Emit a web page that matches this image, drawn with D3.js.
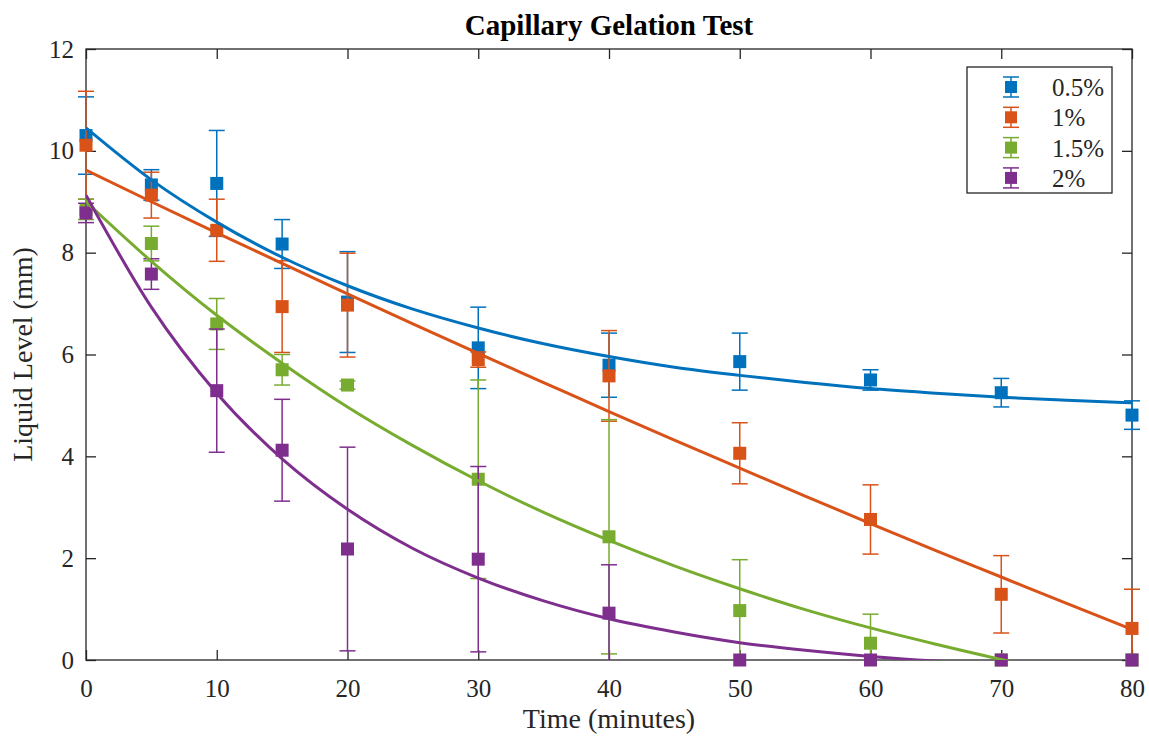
<!DOCTYPE html>
<html>
<head>
<meta charset="utf-8">
<script src="https://cdn.jsdelivr.net/npm/d3@7"></script>
<style>
  body { margin: 0; background: #fff; }
  svg text { font-family: "Liberation Serif", "Times New Roman", serif; fill: #262626; }
</style>
</head>
<body>
<svg id="chart"></svg>
<script>
const times = [0, 5, 10, 15, 20, 30, 40, 50, 60, 70, 80];
const seriesNames = ["0.5%", "1%", "1.5%", "2%"];
const colors = ["#0072BD", "#D95319", "#77AC30", "#7E2F8E"];

const mean05 = [10.30, 9.33, 9.36, 8.17, 7.03, 6.13, 5.79, 5.86, 5.50, 5.25, 4.81];
const err05 = [0.76, 0.30, 1.04, 0.48, 0.99, 0.80, 0.63, 0.56, 0.20, 0.28, 0.28];
const mean1 = [10.11, 9.13, 8.44, 6.94, 6.97, 5.90, 5.58, 4.06, 2.76, 1.29, 0.62];
const err1 = [1.06, 0.45, 0.61, 0.90, 1.02, 0.15, 0.89, 0.60, 0.68, 0.76, 0.77];
const mean15 = [8.85, 8.18, 6.60, 5.70, 5.40, 3.55, 2.42, 0.97, 0.33, 0, 0];
const err15 = [0.20, 0.34, 0.50, 0.30, 0.08, 1.95, 2.30, 1.00, 0.57, 0, 0];
const mean2 = [8.78, 7.58, 5.29, 4.12, 2.18, 1.98, 0.92, 0, 0, 0, 0];
const err2 = [0.19, 0.30, 1.21, 1.00, 2.00, 1.82, 0.95, 0, 0, 0, 0];

// fitted curves, every 5 minutes
const fitTimes = [0, 5, 10, 15, 20, 25, 30, 35, 40, 45, 50, 55, 60, 65, 70, 75, 80];
const fit05 = [10.45, 9.43, 8.60, 7.91, 7.35, 6.89, 6.52, 6.21, 5.96, 5.75, 5.59, 5.45, 5.33, 5.24, 5.16, 5.10, 5.05];
const fit1 = [9.62, 9.00, 8.39, 7.79, 7.19, 6.60, 6.02, 5.45, 4.88, 4.32, 3.77, 3.22, 2.68, 2.15, 1.63, 1.11, 0.60];
const fit15 = [9.00, 7.83, 6.77, 5.83, 4.97, 4.21, 3.52, 2.90, 2.35, 1.85, 1.40, 0.99, 0.63, 0.31, 0.01, -0.25, -0.49];
const fit2 = [9.13, 6.93, 5.24, 3.95, 2.96, 2.19, 1.61, 1.16, 0.81, 0.55, 0.34, 0.19, 0.07, -0.02, -0.09, -0.15, -0.19];

const xTicks = [0, 10, 20, 30, 40, 50, 60, 70, 80];
const yTicks = [0, 2, 4, 6, 8, 10, 12];

const means = [mean05, mean1, mean15, mean2];
const errs = [err05, err1, err15, err2];
const fits = [fit05, fit1, fit15, fit2];

const W = 1149, H = 736;
const margin = { top: 49, right: 17, bottom: 76, left: 86 };
const width = W - margin.left - margin.right;
const height = H - margin.top - margin.bottom;
const axisColor = "#262626";
const serif = '"Liberation Serif", "Times New Roman", serif';

const svg = d3.select("#chart").attr("width", W).attr("height", H);

const x = d3.scaleLinear().domain([0, 80]).range([0, width]);
const y = d3.scaleLinear().domain([0, 12]).range([height, 0]);

const g = svg.append("g")
  .attr("transform", "translate(" + margin.left + "," + margin.top + ")");

const defs = svg.append("defs");
defs.append("clipPath").attr("id", "clipY")
  .append("rect")
  .attr("x", -margin.left).attr("y", 0)
  .attr("width", W).attr("height", height);
defs.append("clipPath").attr("id", "clipBox")
  .append("rect")
  .attr("x", 0).attr("y", 0)
  .attr("width", width).attr("height", height);

// axes with inward ticks
const xAxis = g.append("g")
  .attr("transform", "translate(0," + height + ")")
  .call(d3.axisBottom(x).tickValues(xTicks).tickSizeInner(-10).tickSizeOuter(0).tickPadding(19));
const xTop = g.append("g")
  .call(d3.axisTop(x).tickValues(xTicks).tickSizeInner(-10).tickSizeOuter(0).tickFormat(""));
const yAxis = g.append("g")
  .call(d3.axisLeft(y).tickValues(yTicks).tickSizeInner(-10).tickSizeOuter(0).tickPadding(12));
const yRight = g.append("g")
  .attr("transform", "translate(" + width + ",0)")
  .call(d3.axisRight(y).tickValues(yTicks).tickSizeInner(-10).tickSizeOuter(0).tickFormat(""));

[xAxis, xTop, yAxis, yRight].forEach((a) => {
  a.attr("font-family", serif);
  a.select(".domain").remove();
  a.selectAll("line").attr("stroke", axisColor).attr("stroke-width", 1.3);
  a.selectAll("text").attr("font-size", 25).attr("fill", axisColor).attr("font-family", serif);
});

g.append("rect")
  .attr("width", width).attr("height", height)
  .attr("fill", "none").attr("stroke", axisColor).attr("stroke-width", 1.3);

// error bars and square markers
const cap = 8;
const sq = 13;
seriesNames.forEach((name, i) => {
  const pts = times.map((t, j) => ({ t: t, m: means[i][j], e: errs[i][j] }));
  const sg = g.append("g").attr("stroke", colors[i]).attr("stroke-width", 1.5);
  const bars = sg.append("g").attr("clip-path", "url(#clipY)");
  bars.selectAll(".v").data(pts).enter().append("line")
    .attr("x1", (d) => x(d.t)).attr("x2", (d) => x(d.t))
    .attr("y1", (d) => y(d.m + d.e)).attr("y2", (d) => y(d.m - d.e));
  bars.selectAll(".top").data(pts.filter((d) => d.e > 0)).enter().append("line")
    .attr("x1", (d) => x(d.t) - cap).attr("x2", (d) => x(d.t) + cap)
    .attr("y1", (d) => y(d.m + d.e)).attr("y2", (d) => y(d.m + d.e));
  bars.selectAll(".bot").data(pts.filter((d) => d.e > 0)).enter().append("line")
    .attr("x1", (d) => x(d.t) - cap).attr("x2", (d) => x(d.t) + cap)
    .attr("y1", (d) => y(d.m - d.e)).attr("y2", (d) => y(d.m - d.e));
  sg.selectAll("rect").data(pts).enter().append("rect")
    .attr("x", (d) => x(d.t) - sq / 2).attr("y", (d) => y(d.m) - sq / 2)
    .attr("width", sq).attr("height", sq)
    .attr("fill", colors[i]).attr("stroke", "none");
});

// fitted curves
const line = d3.line()
  .x((d) => x(d[0]))
  .y((d) => y(d[1]))
  .curve(d3.curveMonotoneX);

fits.forEach((f, i) => {
  g.append("path")
    .datum(fitTimes.map((t, j) => [t, f[j]]))
    .attr("clip-path", "url(#clipBox)")
    .attr("fill", "none")
    .attr("stroke", colors[i])
    .attr("stroke-width", 3)
    .attr("d", line);
});

// title and labels
svg.append("text")
  .attr("x", margin.left + width / 2).attr("y", 35)
  .attr("text-anchor", "middle")
  .attr("font-family", serif)
  .attr("font-size", 29).attr("font-weight", "bold")
  .style("fill", "#000")
  .text("Capillary Gelation Test");

svg.append("text")
  .attr("x", margin.left + width / 2).attr("y", 728)
  .attr("text-anchor", "middle")
  .attr("font-family", serif)
  .attr("font-size", 28)
  .text("Time (minutes)");

svg.append("text")
  .attr("transform", "translate(32," + (margin.top + height / 2) + ") rotate(-90)")
  .attr("text-anchor", "middle")
  .attr("font-family", serif)
  .attr("font-size", 28)
  .text("Liquid Level (mm)");

// legend
const legend = svg.append("g");
legend.append("rect")
  .attr("x", 967).attr("y", 67)
  .attr("width", 145).attr("height", 126)
  .attr("fill", "#fff").attr("stroke", axisColor).attr("stroke-width", 1.3);

seriesNames.forEach((name, i) => {
  const cy = 87 + i * 30.3;
  const lg = legend.append("g").attr("stroke", colors[i]).attr("stroke-width", 1.5);
  lg.append("line").attr("x1", 1011).attr("x2", 1011).attr("y1", cy - 10).attr("y2", cy + 10);
  lg.append("line").attr("x1", 1003).attr("x2", 1019).attr("y1", cy - 10).attr("y2", cy - 10);
  lg.append("line").attr("x1", 1003).attr("x2", 1019).attr("y1", cy + 10).attr("y2", cy + 10);
  lg.append("rect").attr("x", 1005).attr("y", cy - 6).attr("width", 12).attr("height", 12)
    .attr("fill", colors[i]).attr("stroke", "none");
  legend.append("text")
    .attr("x", 1052).attr("y", cy + 9)
    .attr("font-family", serif)
    .attr("font-size", 25)
    .text(name);
});
</script>
</body>
</html>
